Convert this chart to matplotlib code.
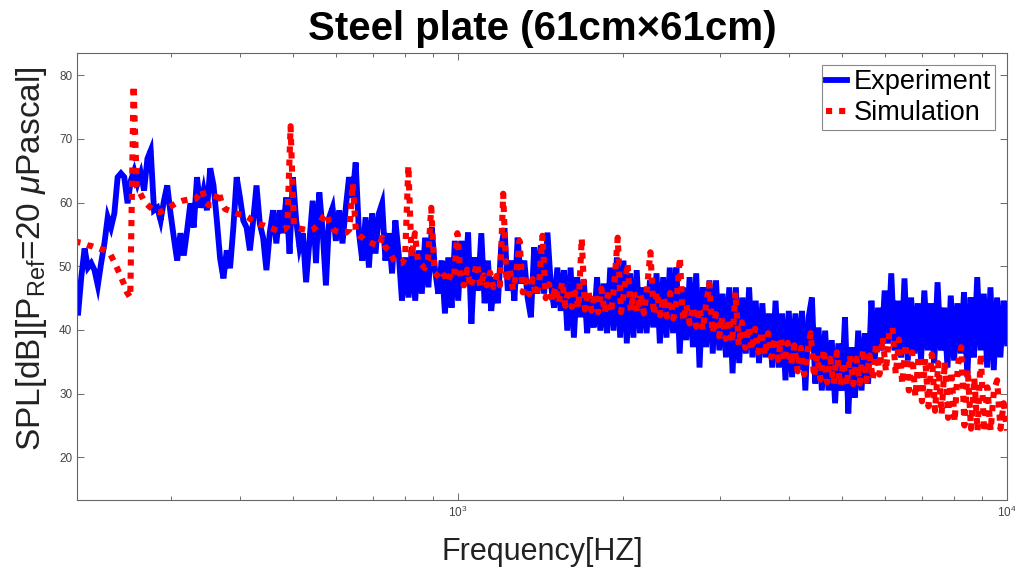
import numpy as np
import matplotlib
matplotlib.use("Agg")
import matplotlib.pyplot as plt
from matplotlib.ticker import LogLocator, NullFormatter

plt.rcParams['font.family'] = ['Liberation Sans', 'DejaVu Sans']
plt.rcParams['mathtext.fontset'] = 'custom'
plt.rcParams['mathtext.rm'] = 'Liberation Sans'
plt.rcParams['mathtext.it'] = 'Liberation Sans:italic'
plt.rcParams['mathtext.bf'] = 'Liberation Sans:bold'

title = "Steel plate (61cm\u00d761cm)"
xlabel = "Frequency[HZ]"
ylabel = r"SPL[dB][P$_{\mathrm{Ref}}$=20 $\mu$Pascal]"
series_names = ["Experiment", "Simulation"]
f_min, f_max = 200, 10000

# Experiment SPL (dB), read left-to-right across the band 200 Hz .. 10 kHz
spl_experiment = [
    45.1, 42.3, 48.3, 52.8, 49.8, 50.5, 49.4, 47.0, 50.5, 53.6, 57.7, 56.1, 58.3, 64.0, 64.6, 64.0,
    59.9, 63.5, 65.0, 63.0, 64.6, 61.9, 66.9, 68.2, 58.8, 59.2, 57.2, 60.3, 62.7, 58.3, 54.5, 50.9,
    55.2, 51.7, 55.6, 59.9, 56.1, 64.0, 59.2, 61.9, 58.8, 65.4, 62.7, 57.2, 51.2, 48.1, 52.5, 49.7,
    56.1, 64.0, 60.8, 57.2, 56.1, 52.5, 57.2, 62.7, 56.7, 54.5, 49.4,
    55.2, 58.8, 53.6, 58.8, 55.2, 60.8, 52.0, 64.0, 57.2, 53.0, 55.2, 47.5, 54.0, 60.3, 50.5, 61.6,
    55.6, 47.0, 57.7, 59.2, 54.0, 58.8, 53.6, 59.2, 64.0, 60.8, 66.3, 55.2, 50.9, 57.7, 49.8, 58.3,
    52.0, 58.3, 59.9, 50.9, 55.2, 48.9, 57.2, 52.0, 44.6, 51.4, 45.1, 53.0, 44.6, 52.5, 45.7, 54.5,
    46.7, 56.1, 49.4, 45.7, 50.9, 42.6, 51.4, 43.5, 54.0, 44.6,
    54.0, 47.3, 55.3, 41.0, 51.4, 46.2, 55.2, 44.2, 50.9, 43.0, 48.3, 44.2, 53.0, 56.0, 46.2, 50.9,
    44.6, 54.5, 47.3, 50.9, 45.1, 42.0, 53.0, 45.7, 53.3, 45.7, 55.3, 47.3, 43.5, 49.8, 43.0, 49.4,
    39.9, 49.8, 38.8, 48.3, 42.0, 47.8, 39.5, 45.1, 40.4, 48.3, 39.9, 47.3, 39.5, 49.8, 39.9, 51.4,
    38.8, 50.9, 37.9, 48.9, 38.8, 49.4, 39.5,
    46.7, 39.5, 47.8, 40.4, 48.9, 37.9, 48.3, 38.8, 49.8, 39.5, 49.8, 36.3, 46.7, 38.4, 48.3, 37.3,
    48.9, 34.1, 46.7, 37.3, 47.8, 36.3, 47.8, 36.8, 45.7, 35.7, 46.7, 33.2, 46.7, 34.8, 45.1, 36.3,
    46.7, 35.7, 44.6, 34.8, 44.2, 35.7, 42.6, 34.1, 44.6, 34.1, 42.6, 32.1, 43.0, 32.6, 42.6, 33.7,
    43.0, 30.5, 42.0, 45.1, 31.6, 40.4, 30.5,
    39.9, 30.5, 38.4, 28.5, 37.9, 30.5, 42.0, 26.9, 37.3, 29.4, 39.9, 30.5, 39.5, 31.6, 44.6, 35.2,
    43.5, 36.8, 46.2, 37.9, 48.9, 36.8, 44.6, 35.7, 48.1, 35.2, 45.1, 36.3, 44.2, 35.2, 46.2, 36.8,
    44.2, 34.8, 47.5, 36.8, 43.5, 34.1, 45.4, 35.2, 44.2, 36.3, 45.9, 32.6, 45.1, 35.7, 48.3, 36.8,
    45.7, 34.1, 46.7, 33.7, 45.1, 35.7, 44.6, 37.9,
]

# Simulation SPL (dB), read left-to-right across the band 200 Hz .. 10 kHz
spl_simulation = [
    54.0, 53.8, 53.7, 53.5, 53.3, 53.2, 53.0, 52.9, 52.7, 52.6, 52.3, 51.8, 50.8, 49.7, 48.5, 47.3,
    45.9, 45.1, 78.4, 62.5, 61.5, 60.5, 59.8, 59.3, 58.9, 58.6, 58.5, 58.7, 59.0, 59.3, 59.6, 59.9,
    60.1, 60.3, 60.4, 60.5, 60.5, 60.6, 61.2, 62.0, 60.0, 59.6, 59.6, 60.3, 61.8, 59.8, 59.0, 58.8,
    58.6, 58.4, 58.2, 58.1, 58.0, 57.7, 57.3, 57.0, 56.7, 56.5, 56.4, 56.2, 56.0, 55.8, 55.6, 55.6,
    55.7, 56.3, 72.0, 56.5, 56.1, 55.9, 55.8, 55.7, 55.6, 55.8, 56.3, 56.8, 57.8, 58.3, 56.5, 55.8,
    55.5, 55.3, 55.3, 55.3, 55.8, 63.0, 55.3, 54.8, 54.5, 54.0, 53.8, 53.6, 53.4, 53.2, 54.5, 53.0,
    52.5, 51.5, 50.6, 50.5, 50.5, 51.2, 65.8, 51.4, 55.2, 50.5, 50.3, 49.7, 51.0, 59.2, 49.0, 48.5,
    47.8, 48.6, 47.5, 48.8, 48.3, 55.2, 48.0, 47.0, 49.5, 46.7, 48.5, 50.5, 46.8, 48.6, 47.0, 49.0,
    46.7, 48.5, 47.0, 61.4, 47.5, 49.6, 46.3, 48.8, 54.0, 45.9, 47.8, 45.6, 48.0, 45.3, 47.5, 54.8,
    45.0, 47.2, 44.6, 46.8, 44.2, 47.6, 43.8, 46.5, 43.6, 45.9, 43.4, 54.4, 43.2, 46.2, 43.0, 45.8,
    42.8, 46.5, 42.7, 45.5, 42.7, 47.5, 54.5, 42.8, 46.2, 50.5, 43.0, 46.0, 42.8, 45.6, 42.6, 46.8,
    52.2, 42.4, 46.0, 42.3, 45.2, 42.1, 45.8, 41.8, 44.6, 51.4, 41.4, 44.0, 41.0, 43.7, 40.5, 43.5,
    40.0, 44.0, 47.3, 39.5, 42.5, 39.0, 42.0, 38.6, 41.8, 38.0, 45.9, 37.6, 41.2, 37.2, 40.5, 36.8,
    40.2, 36.5, 39.8, 36.0, 39.5, 35.7, 38.8, 35.3, 38.5, 35.0, 38.0, 34.5, 37.6, 33.5, 37.2, 33.0,
    36.5, 39.5, 32.6, 36.0, 32.2, 37.0, 31.8, 35.5, 31.5, 36.5, 31.3, 35.0, 31.2, 36.0, 31.5, 35.5,
    31.6, 37.0, 32.0, 36.0, 32.2, 38.0, 33.0, 38.8, 33.5, 39.5, 40.4, 33.0, 38.5, 31.5, 37.8, 30.5,
    36.5, 29.5, 36.0, 28.8, 35.5, 28.0, 36.2, 27.3, 34.8, 26.8, 35.0, 26.2, 33.5, 25.6, 34.5, 37.3,
    25.0, 33.8, 24.5, 32.5, 24.2, 36.3, 24.0, 31.0, 24.2, 30.5, 32.1, 24.5, 28.5, 24.2,
]

freq_experiment = np.geomspace(f_min, f_max, len(spl_experiment))
freq_simulation = np.geomspace(f_min, f_max, len(spl_simulation))

fig = plt.figure(figsize=(10.15, 5.68), dpi=100)
ax = fig.add_axes([0.0759, 0.1197, 0.9162, 0.787])

ax.plot(freq_experiment, spl_experiment, color='#0000ff', lw=4.2, solid_joinstyle='miter',
        label=series_names[0])
ax.plot(freq_simulation, spl_simulation, color='#ff0000', lw=4.4, linestyle=(0, (1, 1.15)),
        label=series_names[1])

ax.set_xscale('log')
ax.set_xlim(f_min * 1.01, f_max)
ax.set_ylim(13.3, 83.5)
ax.set_yticks([20, 30, 40, 50, 60, 70, 80])
ax.xaxis.set_major_locator(LogLocator(base=10, numticks=10))
ax.xaxis.set_minor_locator(LogLocator(base=10, subs=np.arange(2, 10), numticks=20))
ax.xaxis.set_minor_formatter(NullFormatter())

ax.tick_params(which='both', direction='in', top=True, right=True, colors='#555555',
               labelsize=8.5, labelcolor='#444444')
ax.tick_params(which='major', length=5, width=0.6)
ax.tick_params(which='minor', length=3, width=0.6)
for s in ax.spines.values():
    s.set_color('#666666')
    s.set_linewidth(0.8)

ax.set_title(title, fontsize=29, fontweight='bold', pad=9)
ax.set_xlabel(xlabel, fontsize=22, color='#222222', labelpad=12)
ax.set_ylabel(ylabel, fontsize=24, color='#222222')
ax.yaxis.set_label_coords(-0.03, 0.54)

leg = ax.legend(loc='upper right', fontsize=19.5, handlelength=0.75, handletextpad=0.25,
                borderpad=0.15, labelspacing=0.18, fancybox=False, framealpha=1,
                edgecolor='#888888', borderaxespad=0.45)
leg.get_frame().set_linewidth(0.8)

fig.savefig("out.png", dpi=100)
